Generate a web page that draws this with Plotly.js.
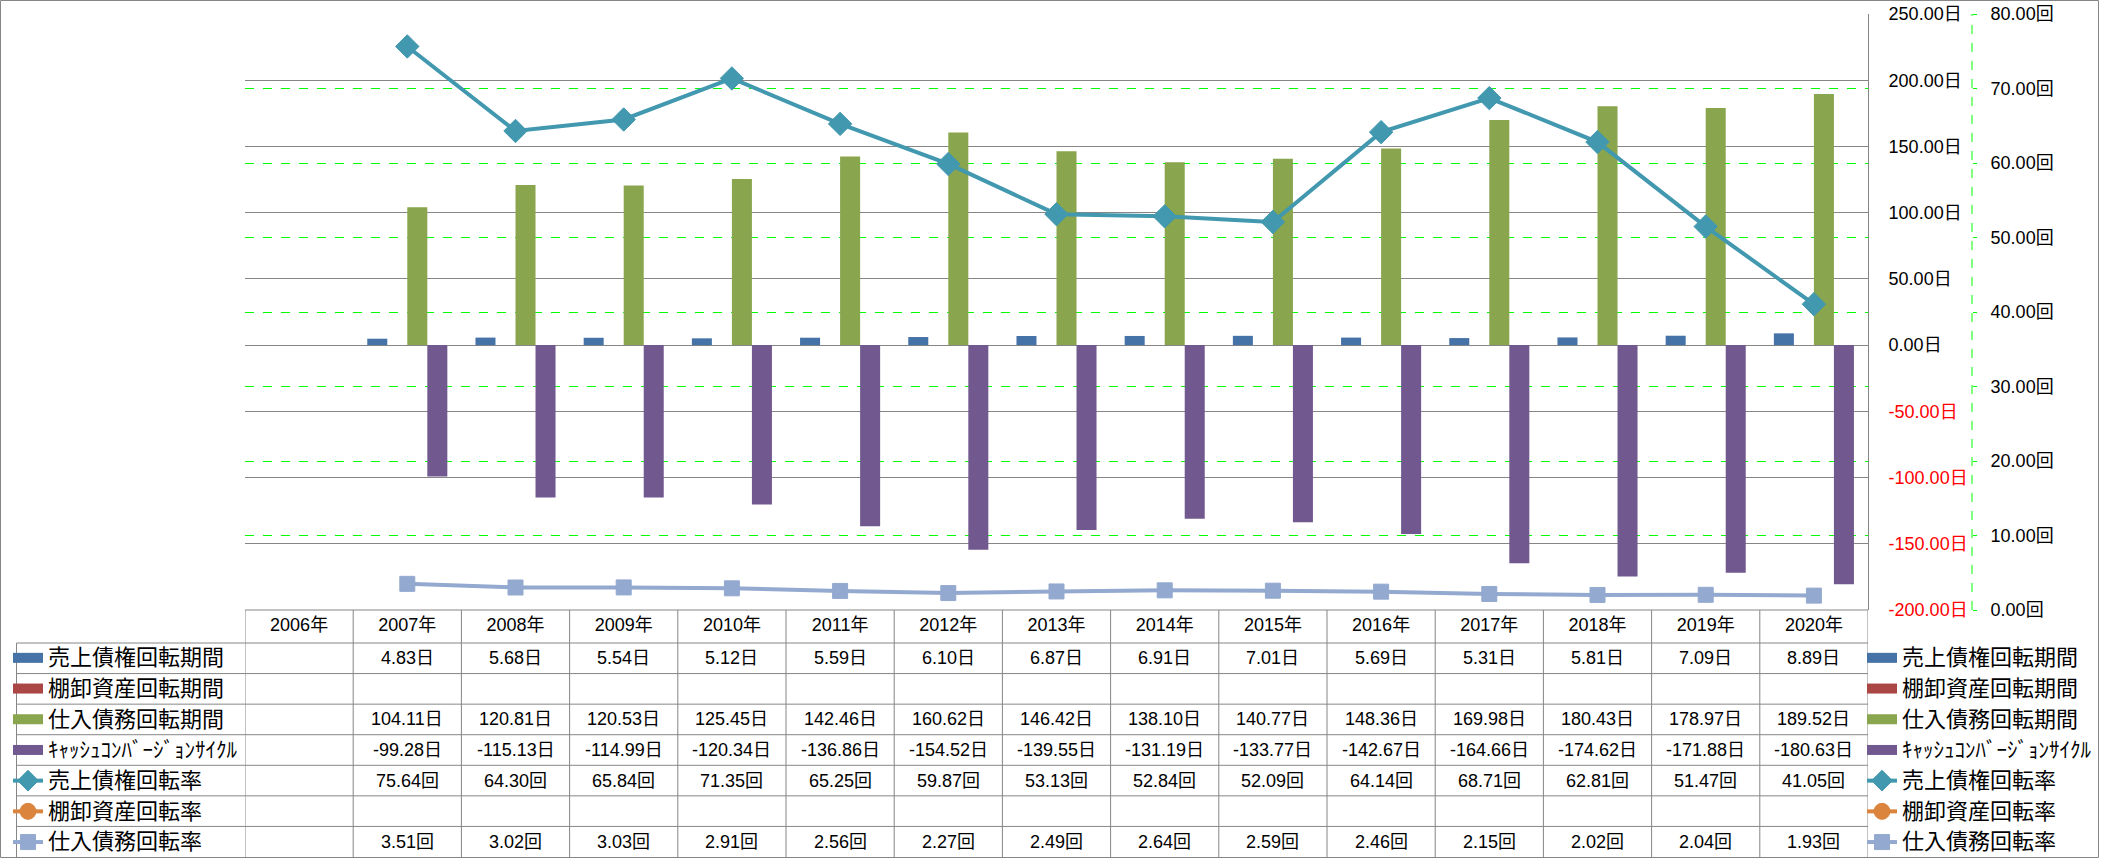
<!DOCTYPE html>
<html>
<head>
<meta charset="utf-8">
<script src="https://cdn.plot.ly/plotly-3.0.1.min.js"></script>
<style>
html,body{margin:0;padding:0;background:#fff;}
#chart{width:2101px;height:858px;}
</style>
</head>
<body>
<div id="chart"></div>
<script>
// ---------------- data ----------------
const years = ['2006年','2007年','2008年','2009年','2010年','2011年','2012年','2013年','2014年','2015年','2016年','2017年','2018年','2019年','2020年'];
const seriesNames = ['売上債権回転期間','棚卸資産回転期間','仕入債務回転期間','ｷｬｯｼｭｺﾝﾊﾞｰｼﾞｮﾝｻｲｸﾙ','売上債権回転率','棚卸資産回転率','仕入債務回転率'];
const receivableDays = [null,4.83,5.68,5.54,5.12,5.59,6.10,6.87,6.91,7.01,5.69,5.31,5.81,7.09,8.89];
const inventoryDays  = [null,null,null,null,null,null,null,null,null,null,null,null,null,null,null];
const payableDays    = [null,104.11,120.81,120.53,125.45,142.46,160.62,146.42,138.10,140.77,148.36,169.98,180.43,178.97,189.52];
const cashConversion = [null,-99.28,-115.13,-114.99,-120.34,-136.86,-154.52,-139.55,-131.19,-133.77,-142.67,-164.66,-174.62,-171.88,-180.63];
const receivableTurn = [null,75.64,64.30,65.84,71.35,65.25,59.87,53.13,52.84,52.09,64.14,68.71,62.81,51.47,41.05];
const inventoryTurn  = [null,null,null,null,null,null,null,null,null,null,null,null,null,null,null];
const payableTurn    = [null,3.51,3.02,3.03,2.91,2.56,2.27,2.49,2.64,2.59,2.46,2.15,2.02,2.04,1.93];
const daysUnit = '日';
const turnUnit = '回';
const primaryTicks = [-200,-150,-100,-50,0,50,100,150,200,250];
const secondaryTicks = [0,10,20,30,40,50,60,70,80];

// ---------------- geometry helpers ----------------
const W = 2101, H = 858;
const ML = 245, MR = 0, MT = 14, MB = 248;
const PW = W - ML - MR, PH = H - MT - MB;
const px2x = p => (p - ML) / PW;
const py2y = p => (H - MB - p) / PH;
const plotRight = 1868;
const headerBottom = 643, tableBottom = 857;
const rowH = (tableBottom - headerBottom) / 7;
const rowCenter = k => headerBottom + rowH * (k + 0.5);

const FONT_NUM = 'Liberation Sans Narrow, Liberation Sans, Noto Sans CJK JP, sans-serif';
const FONT_JP = 'Noto Sans CJK JP, sans-serif';
const GRAY = '#868686';
const legendLabel = (s, i) => '<span style="font-size:' + (i === 3 ? 21 : 22) + 'px">' + s + '</span>';

const colors = ['#4572A7','#AA4643','#89A54E','#71588F','#4198AF','#DB843D','#93A9CF'];
const barData = [receivableDays, inventoryDays, payableDays, cashConversion];
const lineData = [receivableTurn, inventoryTurn, payableTurn];
const lineSymbols = ['diamond','circle','square'];
const lineSizes = [18,16,15];

const traces = [];
barData.forEach((vals, i) => {
  traces.push({
    type: 'bar', x: years, y: vals, name: seriesNames[i],
    marker: {color: colors[i]}, offsetgroup: 'g' + i,
    showlegend: false, hoverinfo: 'skip'
  });
});
lineData.forEach((vals, j) => {
  const i = 4 + j;
  traces.push({
    type: 'scatter', mode: 'lines+markers', x: years, y: vals, yaxis: 'y2',
    name: seriesNames[i],
    line: {color: colors[i], width: 4},
    marker: {symbol: lineSymbols[j], size: lineSizes[j], color: colors[i], line: {color: colors[i], width: 1}},
    showlegend: false, hoverinfo: 'skip'
  });
});
// legend keys (right-hand legend and the data-table key column)
['legend', 'legend2'].forEach(lg => {
  barData.forEach((vals, i) => {
    traces.push({
      type: 'scatter', mode: 'lines', x: [null], y: [null], name: legendLabel(seriesNames[i], i),
      line: {color: colors[i], width: 12},
      legendgroup: lg + i, legend: lg, hoverinfo: 'skip'
    });
  });
  lineData.forEach((vals, j) => {
    const i = 4 + j;
    traces.push({
      type: 'scatter', mode: 'lines+markers', x: [null], y: [null], yaxis: 'y2',
      name: legendLabel(seriesNames[i], i),
      line: {color: colors[i], width: 4},
      marker: {symbol: lineSymbols[j], size: lineSizes[j], color: colors[i], line: {color: colors[i], width: 1}},
      legendgroup: lg + i, legend: lg, hoverinfo: 'skip'
    });
  });
});

// ---------------- table text ----------------
const tableRows = [receivableDays, inventoryDays, payableDays, cashConversion, receivableTurn, inventoryTurn, payableTurn];
const tableUnits = [daysUnit, daysUnit, daysUnit, daysUnit, turnUnit, turnUnit, turnUnit];
const annotations = [];
tableRows.forEach((vals, k) => {
  vals.forEach((v, j) => {
    if (v === null) return;
    annotations.push({
      xref: 'x', yref: 'paper', x: years[j], y: py2y(rowCenter(k)),
      text: v.toFixed(2) + tableUnits[k], showarrow: false,
      xanchor: 'center', yanchor: 'middle',
      font: {family: FONT_NUM, size: 18, color: '#000'}
    });
  });
});

// ---------------- table lines ----------------
const shapes = [];
const hline = (y, x0, x1) => shapes.push({type: 'line', xref: 'paper', yref: 'paper', x0: px2x(x0), x1: px2x(x1), y0: py2y(y), y1: py2y(y), line: {color: GRAY, width: 1}});
hline(610, ML, plotRight);
for (let k = 0; k < 7; k++) hline(headerBottom + rowH * k, 16.5, plotRight);
shapes.push({type: 'line', xref: 'paper', yref: 'paper', x0: px2x(16.5), x1: px2x(16.5), y0: py2y(headerBottom), y1: py2y(tableBottom), line: {color: GRAY, width: 1}});
for (let j = 0; j <= years.length; j++) {
  shapes.push({type: 'line', xref: 'x', yref: 'paper', x0: j - 0.5, x1: j - 0.5, y0: py2y(610), y1: py2y(tableBottom), line: {color: GRAY, width: 1}});
}
// outer chart frame
shapes.push({type: 'rect', xref: 'paper', yref: 'paper', x0: px2x(0.5), x1: px2x(2098.5), y0: py2y(0.5), y1: py2y(857.5), line: {color: GRAY, width: 1}, fillcolor: 'rgba(0,0,0,0)'});
// secondary axis dashed line
const y2pos = px2x(1972);
shapes.push({type: 'line', xref: 'paper', yref: 'paper', x0: y2pos, x1: y2pos, y0: 0, y1: 1, line: {color: '#00FF00', width: 1, dash: 'dash'}});

const primaryText = primaryTicks.map(v => {
  const s = v.toFixed(2) + daysUnit;
  return v < 0 ? '<span style="color:#FF0000">' + s + '</span>' : s;
});
const secondaryText = secondaryTicks.map(v => v.toFixed(2) + turnUnit);

const legendCommon = {
  orientation: 'v', xanchor: 'left', yanchor: 'top',
  bgcolor: 'rgba(0,0,0,0)', borderwidth: 0,
  font: {family: FONT_JP, size: 19, color: '#000'},
  tracegroupgap: 3, itemclick: false, itemdoubleclick: false, traceorder: 'grouped'
};

const layout = {
  width: W, height: H,
  margin: {l: ML, r: MR, t: MT, b: MB, autoexpand: false},
  paper_bgcolor: '#fff', plot_bgcolor: 'rgba(0,0,0,0)',
  barmode: 'group', bargap: 0.26, bargroupgap: 0,
  showlegend: true,
  xaxis: {
    type: 'category', domain: [0, px2x(plotRight)], range: [-0.5, years.length - 0.5],
    showgrid: false, zeroline: false, showline: false, ticks: '',
    tickfont: {family: FONT_NUM, size: 18, color: '#000'},
    ticklabelstandoff: 2, fixedrange: true
  },
  yaxis: {
    side: 'right', range: [-200, 250], tickvals: primaryTicks, ticktext: primaryText,
    showgrid: true, gridcolor: GRAY, gridwidth: 1, zeroline: false,
    showline: true, linecolor: GRAY, linewidth: 1, ticks: '',
    tickfont: {family: FONT_NUM, size: 18, color: '#000'},
    ticklabelstandoff: 16, fixedrange: true
  },
  yaxis2: {
    overlaying: 'y', anchor: 'free', position: y2pos, side: 'right',
    range: [0, 80], tickvals: secondaryTicks, ticktext: secondaryText,
    showgrid: true, gridcolor: '#00FF00', griddash: 'dash', gridwidth: 1, zeroline: false,
    showline: false, ticks: 'outside', ticklen: 4, tickcolor: '#00FF00',
    tickfont: {family: FONT_NUM, size: 18, color: '#000'},
    ticklabelstandoff: 10, fixedrange: true
  },
  legend: Object.assign({}, legendCommon, {x: px2x(1862), y: py2y(639)}),
  legend2: Object.assign({}, legendCommon, {x: px2x(8), y: py2y(639)}),
  annotations: annotations,
  shapes: shapes
};

Plotly.newPlot('chart', traces, layout, {displayModeBar: false, staticPlot: true});
</script>
</body>
</html>
